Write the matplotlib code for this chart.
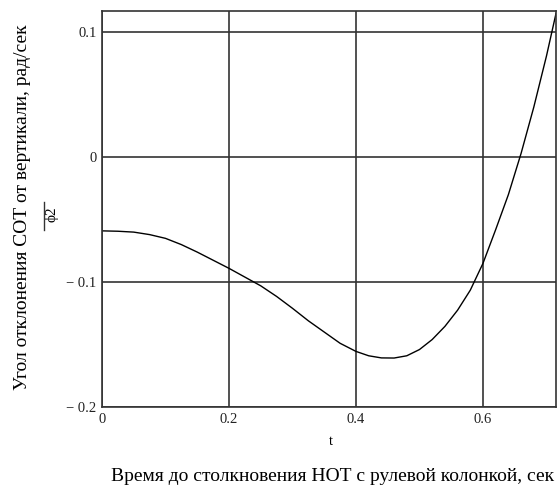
import matplotlib
matplotlib.use('Agg')
import matplotlib.pyplot as plt
from matplotlib.lines import Line2D
from matplotlib.ticker import FuncFormatter

# values
t_vals = [0.0, 0.025, 0.05, 0.075, 0.1, 0.125, 0.15, 0.175, 0.2, 0.225, 0.25,
          0.275, 0.3, 0.325, 0.35, 0.375, 0.4, 0.42, 0.44, 0.46, 0.48, 0.5,
          0.52, 0.54, 0.56, 0.58, 0.6, 0.62, 0.64, 0.66, 0.68, 0.7, 0.715]
phi2_vals = [-0.0590, -0.0593, -0.0600, -0.0620, -0.0650, -0.0700, -0.0760,
             -0.0825, -0.0890, -0.0960, -0.1030, -0.1115, -0.1210, -0.1310,
             -0.1400, -0.1490, -0.1555, -0.1590, -0.1607, -0.1608, -0.1590,
             -0.1540, -0.1460, -0.1355, -0.1225, -0.1065, -0.0850, -0.0580,
             -0.0300, 0.0030, 0.0400, 0.0810, 0.1150]
x_ticks = [0, 0.2, 0.4, 0.6]
y_ticks = [-0.2, -0.1, 0, 0.1]

plt.rcParams['font.family'] = ['Liberation Serif', 'DejaVu Serif']

fig = plt.figure(figsize=(5.57, 4.86), dpi=100)
ax = fig.add_axes([102 / 557, 79 / 486, 454 / 557, 396 / 486])

ax.plot(t_vals, phi2_vals, color='black', lw=1.0)

ax.set_xlim(0, 0.715)
ax.set_ylim(-0.2, 0.117)
ax.set_xticks(x_ticks)
ax.set_yticks(y_ticks)


def fmt(v, pos):
    if abs(v) < 1e-9:
        return '0'
    s = ('%g' % abs(v))
    return ('\u2212 ' + s) if v < 0 else s


ax.xaxis.set_major_formatter(FuncFormatter(fmt))
ax.yaxis.set_major_formatter(FuncFormatter(fmt))
ax.tick_params(length=0, labelsize=10.5, colors='#222222', pad=4)
ax.grid(True, color='#333333', lw=1.2)
ax.set_axisbelow(True)
for sp in ax.spines.values():
    sp.set_color('#333333')
    sp.set_linewidth(1.2)

fig.text(331 / 557, 1 - 441 / 486, 't', ha='center', va='center', fontsize=10.5)
fig.text(333 / 557, 1 - 476 / 486,
         'Время до столкновения НОТ с рулевой колонкой, сек',
         ha='center', va='center', fontsize=14)
fig.text(23 / 557, 1 - 207 / 486, 'Угол отклонения СОТ от вертикали, рад/сек',
         ha='center', va='center', rotation=90, fontsize=14)
fig.text(52 / 557, 1 - 214 / 486, '\u03d52', ha='center', va='center',
         rotation=90, fontsize=11)
fig.add_artist(Line2D([44 / 557, 44 / 557], [1 - 230 / 486, 1 - 202 / 486],
                      color='#333333', lw=1.0, transform=fig.transFigure))

fig.savefig('out.png', dpi=100)
